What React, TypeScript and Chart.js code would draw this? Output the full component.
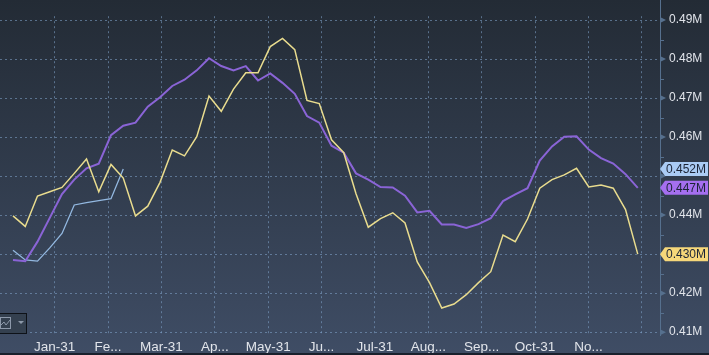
import React, { useEffect, useRef } from "react";
import { Chart, registerables } from "chart.js";

Chart.register(...registerables);

// weekly observations (day of year of each weekly point)
const weekDays: number[] = Array.from({ length: 52 }, (_, i) => 7 * (i + 1));

const yellowSeries: number[] = [
  0.4398, 0.4371, 0.4449, 0.446, 0.4471, 0.4507, 0.4544, 0.446, 0.453, 0.4495,
  0.4398, 0.4423, 0.4484, 0.4567, 0.4552, 0.4601, 0.4705, 0.4666, 0.4723, 0.4765,
  0.4765, 0.4832, 0.4853, 0.4824, 0.4694, 0.4686, 0.4593, 0.456, 0.4455, 0.4369,
  0.4391, 0.4406, 0.438, 0.428, 0.4227, 0.4162, 0.4172, 0.4196, 0.4227, 0.4255,
  0.4349, 0.4332, 0.439, 0.4469, 0.4491, 0.4503, 0.452, 0.4472, 0.4477, 0.4469,
  0.4414, 0.43,
];

const purpleSeries: number[] = [
  0.4285, 0.4282, 0.4332, 0.4393, 0.4454, 0.4491, 0.452, 0.4532, 0.4605, 0.4629,
  0.4637, 0.4678, 0.4702, 0.4731, 0.4747, 0.4771, 0.4802, 0.4782, 0.4771, 0.4782,
  0.4745, 0.4763, 0.4739, 0.4711, 0.4654, 0.4637, 0.4578, 0.456, 0.4507, 0.4491,
  0.4472, 0.4471, 0.445, 0.4407, 0.4411, 0.4376, 0.4376, 0.4367, 0.4377, 0.4392,
  0.4436, 0.4453, 0.4469, 0.454, 0.4576, 0.4601, 0.4602, 0.4568, 0.4546, 0.4532,
  0.4505, 0.447,
];

const blueSeries: number[] = [
  0.431, 0.4285, 0.4282, 0.4316, 0.4353, 0.4426, 0.4432, 0.4437, 0.4442, 0.4518,
];

const monthLabels: string[] = [
  "Jan-31", "Fe...", "Mar-31", "Ap...", "May-31", "Ju...",
  "Jul-31", "Aug...", "Sep...", "Oct-31", "No...", "",
];

const yTickValues: number[] = [0.41, 0.42, 0.43, 0.44, 0.45, 0.46, 0.47, 0.48, 0.49];

const lastValues: number[] = [
  blueSeries[blueSeries.length - 1],
  purpleSeries[purpleSeries.length - 1],
  yellowSeries[yellowSeries.length - 1],
];

const COLORS = {
  yellow: "#e9dc8e",
  purple: "#8a64d6",
  blue: "#93b8e0",
  tagYellow: "#f6d77a",
  tagPurple: "#a56ff0",
  tagBlue: "#aacbf4",
  grid: "rgba(125,158,196,0.6)",
  text: "#e1e4ea",
  axis: "#56708e",
};

const FONT = "'Liberation Sans', Arial, sans-serif";

function toPoints(vals: number[]) {
  return vals.map((v, i) => ({ x: weekDays[i], y: v }));
}

const decorPlugin = {
  id: "decor",
  beforeDraw(chart: any) {
    const { ctx, width, height } = chart;
    ctx.save();
    const g = ctx.createLinearGradient(0, 0, 0, height);
    g.addColorStop(0, "#232b35");
    g.addColorStop(1, "#3f4d65");
    ctx.fillStyle = g;
    ctx.fillRect(0, 0, width, height);
    ctx.restore();
  },
  afterDraw(chart: any) {
    const { ctx, chartArea, width, height } = chart;
    const y = chart.scales.y;
    ctx.save();
    // axis line
    ctx.strokeStyle = COLORS.axis;
    ctx.lineWidth = 1;
    ctx.beginPath();
    ctx.moveTo(chartArea.right + 0.5, 0);
    ctx.lineTo(chartArea.right + 0.5, chartArea.bottom);
    ctx.stroke();
    // minor ticks
    for (let i = 0; i < yTickValues.length - 1; i++) {
      const v = (yTickValues[i] + yTickValues[i + 1]) / 2;
      const py = Math.round(y.getPixelForValue(v)) + 0.5;
      ctx.beginPath();
      ctx.moveTo(chartArea.right, py);
      ctx.lineTo(chartArea.right + 4, py);
      ctx.stroke();
    }
    // major tick arrows
    ctx.fillStyle = COLORS.axis;
    yTickValues.forEach((v) => {
      const py = y.getPixelForValue(v);
      ctx.beginPath();
      ctx.moveTo(chartArea.right, py - 3);
      ctx.lineTo(chartArea.right + 6, py);
      ctx.lineTo(chartArea.right, py + 3);
      ctx.closePath();
      ctx.fill();
    });
    // last value tags
    const tagColors = [COLORS.tagBlue, COLORS.tagPurple, COLORS.tagYellow];
    ctx.font = `12px ${FONT}`;
    ctx.textBaseline = "middle";
    lastValues.forEach((v, i) => {
      const py = y.getPixelForValue(v);
      const x0 = chartArea.right;
      const h = 14;
      ctx.fillStyle = tagColors[i];
      ctx.beginPath();
      ctx.moveTo(x0, py);
      ctx.lineTo(x0 + 5, py - h / 2);
      ctx.lineTo(width - 1, py - h / 2);
      ctx.lineTo(width - 1, py + h / 2);
      ctx.lineTo(x0 + 5, py + h / 2);
      ctx.closePath();
      ctx.fill();
      ctx.fillStyle = "#1b2436";
      ctx.fillText(v.toFixed(3) + "M", x0 + 6, py + 0.5);
    });
    // chart type icon box (bottom-left)
    ctx.fillStyle = "#34404f";
    ctx.fillRect(0, 313, 27, 20);
    ctx.strokeStyle = "#0e1218";
    ctx.strokeRect(-0.5, 313.5, 27, 20);
    ctx.strokeStyle = "#8d99aa";
    ctx.strokeRect(0.5, 317.5, 10, 11);
    ctx.beginPath();
    ctx.moveTo(1, 325);
    ctx.lineTo(4, 322);
    ctx.lineTo(6, 325);
    ctx.lineTo(10, 320);
    ctx.stroke();
    ctx.fillStyle = "#8d99aa";
    ctx.beginPath();
    ctx.moveTo(18, 321);
    ctx.lineTo(24, 321);
    ctx.lineTo(21, 324);
    ctx.closePath();
    ctx.fill();
    // bottom border
    ctx.fillStyle = "#19202c";
    ctx.fillRect(0, height - 2, width, 2);
    ctx.restore();
  },
};

export default function App() {
  const canvasRef = useRef<HTMLCanvasElement | null>(null);

  useEffect(() => {
    if (!canvasRef.current) return;
    const chart = new Chart(canvasRef.current, {
      type: "line",
      data: {
        datasets: [
          {
            data: toPoints(yellowSeries),
            borderColor: COLORS.yellow,
            borderWidth: 1.5,
            pointRadius: 0,
            tension: 0,
          },
          {
            data: toPoints(purpleSeries),
            borderColor: COLORS.purple,
            borderWidth: 2,
            pointRadius: 0,
            tension: 0,
          },
          {
            data: toPoints(blueSeries),
            borderColor: COLORS.blue,
            borderWidth: 1.3,
            pointRadius: 0,
            tension: 0,
          },
        ],
      },
      options: {
        responsive: false,
        animation: false,
        events: [],
        layout: { padding: 0 },
        plugins: {
          legend: { display: false },
          tooltip: { enabled: false },
        },
        scales: {
          x: {
            type: "linear",
            min: -0.43,
            max: 376.7,
            position: "bottom",
            afterBuildTicks: (scale: any) => {
              scale.ticks = monthLabels.map((_, k) => ({ value: 30.5 * (k + 1) + 0.3 }));
            },
            afterFit: (scale: any) => {
              scale.height = 19;
            },
            grid: { color: COLORS.grid, lineWidth: 1, drawTicks: false },
            border: { display: false, dash: [2, 3] },
            ticks: {
              autoSkip: false,
              maxRotation: 0,
              padding: 3,
              color: COLORS.text,
              font: { family: FONT, size: 13.5 },
              callback: (_v: any, i: number) => monthLabels[i],
            },
          },
          y: {
            type: "linear",
            position: "right",
            min: 0.40902,
            max: 0.49098,
            afterBuildTicks: (scale: any) => {
              scale.ticks = yTickValues.map((v) => ({ value: v }));
            },
            afterFit: (scale: any) => {
              scale.width = 49;
            },
            grid: { color: COLORS.grid, lineWidth: 1, drawTicks: false },
            border: { display: false, dash: [2, 3] },
            ticks: {
              padding: 9,
              color: COLORS.text,
              font: { family: FONT, size: 12 },
              callback: (v: any) => {
                const n = Number(v);
                // labels hidden behind last-value tags
                if (lastValues.some((lv) => Math.abs(lv - n) < 0.0035)) return "";
                return n.toFixed(2) + "M";
              },
            },
          },
        },
      },
      plugins: [decorPlugin],
    } as any);
    return () => chart.destroy();
  }, []);

  return (
    <div style={{ position: "absolute", left: 0, top: 0, width: 709, height: 355 }}>
      <canvas ref={canvasRef} width={709} height={355} style={{ display: "block" }} />
    </div>
  );
}
